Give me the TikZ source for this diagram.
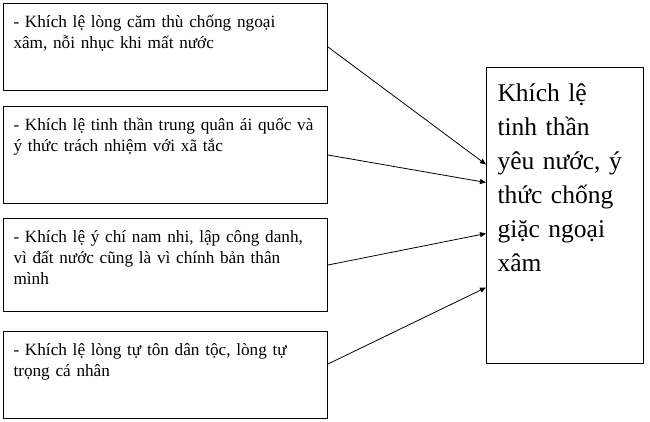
\documentclass[tikz,border=0pt]{standalone}
\usepackage{fontspec}
\setmainfont{Liberation Serif}
\usetikzlibrary{arrows.meta}
\tikzset{
  leftbox/.style={draw,line width=1pt,anchor=north west,inner xsep=10pt,inner ysep=9.5pt,
    text width=304pt,align=left,text height=14.5pt,text depth=#1,
    font=\fontsize{17.2pt}{21pt}\selectfont},
  mainbox/.style={draw,line width=1pt,anchor=north west,inner xsep=11pt,inner ysep=9.5pt,
    text width=135pt,align=left,text height=24.5pt,text depth=252.5pt,
    font=\fontsize{25.5pt}{34pt}\selectfont},
  link/.style={->,line width=0.8pt}
}
\begin{document}
\begin{tikzpicture}[x=1pt,y=-1pt,>={Triangle[length=6pt,width=5pt]},line join=round]
\useasboundingbox (0,0) rectangle (650,422);
\node[leftbox=53.5pt] (b1) at (3,3) {- Khích lệ lòng căm thù chống ngoại\\xâm, nỗi nhục khi mất nước};
\node[leftbox=63.5pt] (b2) at (3,106) {- Khích lệ tinh thần trung quân ái quốc và\\ý thức trách nhiệm với xã tắc};
\node[leftbox=59.5pt] (b3) at (3,218) {- Khích lệ ý chí nam nhi, lập công danh,\\vì đất nước cũng là vì chính bản thân\\mình};
\node[leftbox=53.5pt] (b4) at (3,331) {- Khích lệ lòng tự tôn dân tộc, lòng tự\\trọng cá nhân};
\node[mainbox] (r) at (486,67) {Khích lệ\\tinh thần\\yêu nước, ý\\thức chống\\giặc ngoại\\xâm};
% arrows into the main box
\coordinate (s4) at ([yshift=11pt]b4.east);
\coordinate (e1) at ([yshift=51pt]r.west);
\coordinate (e2) at ([yshift=33pt]r.west);
\coordinate (e3) at ([yshift=-18pt]r.west);
\coordinate (e4) at ([yshift=-72pt]r.west);
\draw[link] (b1.east)--(e1);
\draw[link] (b2.east)--(e2);
\draw[link] (b3.east)--(e3);
\draw[link] (s4)--(e4);
\end{tikzpicture}
\end{document}
